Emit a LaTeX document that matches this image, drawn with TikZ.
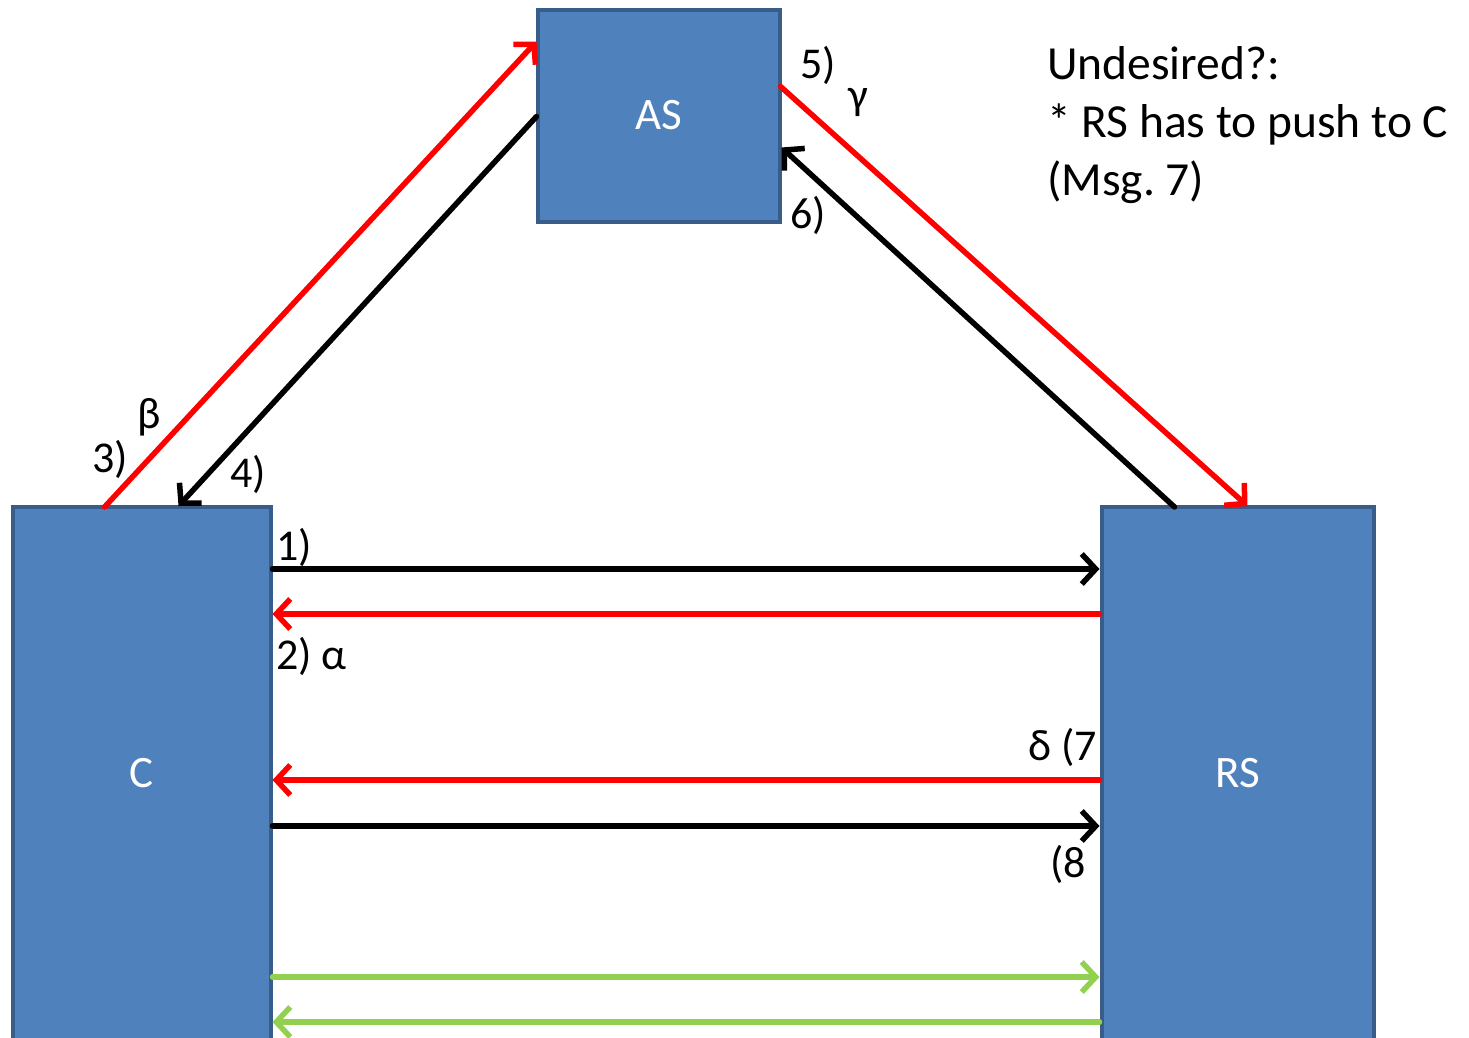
\documentclass[tikz,border=0pt]{standalone}
\usepackage{fontspec}
\setmainfont{Carlito}
\usetikzlibrary{arrows.meta,calc}
\definecolor{boxfill}{HTML}{4F81BD}
\definecolor{boxline}{HTML}{385D8A}
\definecolor{msgred}{HTML}{FF0000}
\definecolor{msggreen}{HTML}{92D050}
\begin{document}
\begin{tikzpicture}[x=1pt,y=-1pt,
  entity/.style={draw=boxline,fill=boxfill,line width=4pt,text=white,
    font=\fontsize{45}{54}\selectfont,inner sep=0pt},
  msg/.style={line width=5.5pt,line cap=round,line join=round,
    -{Straight Barb[length=14pt,width=30pt]}},
  lbl/.style={font=\fontsize{44}{53}\selectfont,inner sep=0pt,anchor=base west},
  note/.style={font=\fontsize{47.5}{58}\selectfont,inner sep=0pt,anchor=base west},
]
\clip (0,0) rectangle (1469,1037);

% parties
\node[entity,minimum width=242pt,minimum height=212pt] (AS) at (658.5,115.5) {AS};
\node[entity,minimum width=258pt,minimum height=533pt] (C) at (141.5,773.5) {C};
\node[entity,minimum width=272pt,minimum height=533pt] (RS) at (1237.5,773.5) {RS};

% messages via the authorization server
\draw[msg,msgred] ($(C.north west)+(94,2)$) -- ($(AS.north west)+(1,34)$);
\draw[msg,black] ($(AS.west)+(1,1)$) -- ($(C.north west)+(168,1)$);
\draw[msg,msgred] ($(AS.north east)+(-1,79)$) -- ($(RS.north west)+(148,1)$);
\draw[msg,black] ($(RS.north west)+(75,2)$) -- ($(AS.north east)+(0,140)$);

% direct client / resource server exchanges
\draw[msg,black] (C.east |- 0,569) -- (RS.west |- 0,569);
\draw[msg,msgred] (RS.west |- 0,614) -- (C.east |- 0,614);
\draw[msg,msgred] (RS.west |- 0,780) -- (C.east |- 0,780);
\draw[msg,black] (C.east |- 0,826) -- (RS.west |- 0,826);
\draw[msg,msggreen] (C.east |- 0,977) -- (RS.west |- 0,977);
\draw[msg,msggreen] (RS.west |- 0,1022) -- (C.east |- 0,1022);

% message labels
\node[lbl] (l1) at (276,560) {1)};
\node[lbl] (l2) at (276,669) {2) α};
\node[lbl] (l3) at (92,472) {3)};
\node[lbl] (lb) at (137,428) {β};
\node[lbl] (l4) at (230,487) {4)};
\node[lbl] (l5) at (800,78) {5)};
\node[lbl] (lg) at (848,109) {γ};
\node[lbl] (l6) at (790,228) {6)};
\node[lbl] (l7) at (1028,760) {δ (7};
\node[lbl] (l8) at (1050,877) {(8};

% remark
\node[note] (n1) at (1047,79) {Undesired?:};
\node[note] (n2) at (1047,137) {* RS has to push to C};
\node[note] (n3) at (1047,195) {(Msg.\ 7)};
\end{tikzpicture}
\end{document}
